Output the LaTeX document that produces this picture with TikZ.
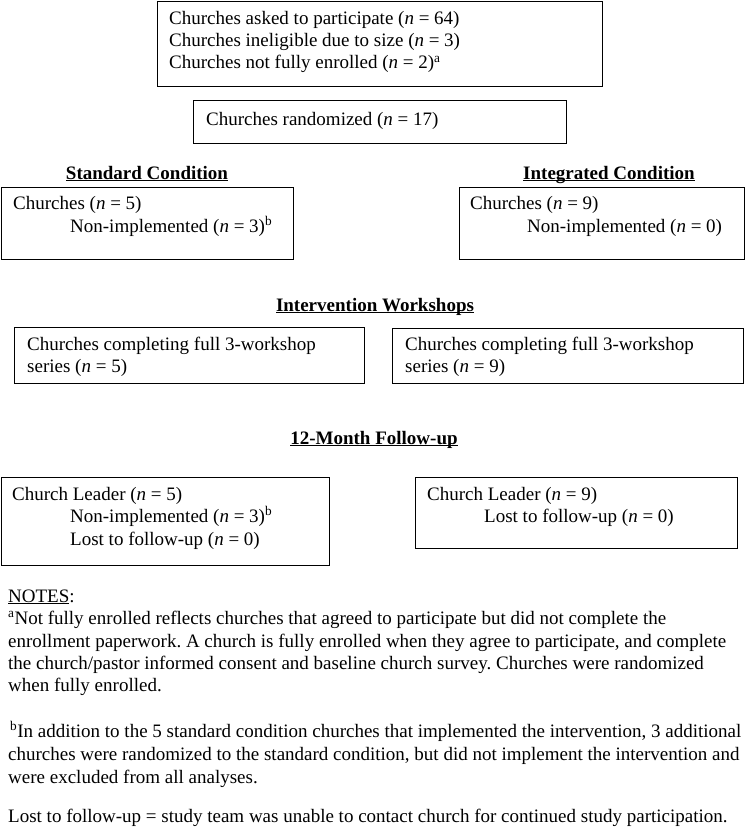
\documentclass[tikz,border=0pt]{standalone}
\usepackage{fontspec}
\setmainfont{Liberation Serif}
\newcommand\fs{\fontsize{19}{22}\selectfont\frenchspacing}
\newcommand\ul[1]{\underline{\smash{#1}}}
\newcommand\nn{\textit{n}}
\begin{document}
\begin{tikzpicture}[x=1pt,y=-1pt,
  box/.style={draw, line width=1.1pt, inner sep=0pt, anchor=north west},
  txt/.style={anchor=base west, inner sep=0pt, font=\fs},
  head/.style={anchor=base, inner sep=0pt, font=\fs\bfseries}]
\useasboundingbox (0,0) rectangle (749,828);
% boxes
\node[box, minimum width=445pt, minimum height=85pt] (b1) at (157,1) {};
\node[box, minimum width=373pt, minimum height=43pt] (b2) at (193,100) {};
\node[box, minimum width=292pt, minimum height=72pt] (bs) at (1,187) {};
\node[box, minimum width=285pt, minimum height=72pt] (bi) at (459,187) {};
\node[box, minimum width=350pt, minimum height=56pt] (bwl) at (14,327) {};
\node[box, minimum width=351pt, minimum height=55pt] (bwr) at (392,328) {};
\node[box, minimum width=328pt, minimum height=88pt] (bfl) at (1,477) {};
\node[box, minimum width=322pt, minimum height=71pt] (bfr) at (415,477) {};
% top box text
\node[txt] (t1) at (169,24) {Churches asked to participate (\nn{} = 64)};
\node[txt] (t2) at (169,46.5) {Churches ineligible due to size (\nn{} = 3)};
\node[txt] (t3) at (169,68.5) {Churches not fully enrolled (\nn{} = 2)\textsuperscript{a}};
\node[txt] (t4) at (206,125) {Churches randomized (\nn{} = 17)};
% headings
\node[head] (hs) at (147,179) {\ul{Standard Condition}};
\node[head] (hi) at (609,179) {\ul{Integrated Condition}};
\node[head] (hw) at (375,311) {\ul{Intervention Workshops}};
\node[head] (hf) at (374,444) {\ul{12-Month Follow-up}};
% condition boxes
\node[txt] (s1) at (13,209) {Churches (\nn{} = 5)};
\node[txt] (s2) at (70,232) {Non-implemented (\nn{} = 3)\textsuperscript{b}};
\node[txt] (i1) at (470,209) {Churches (\nn{} = 9)};
\node[txt] (i2) at (527,232) {Non-implemented (\nn{} = 0)};
% workshops
\node[txt] (w1) at (27,350) {Churches completing full 3-workshop};
\node[txt] (w2) at (27,372) {series (\nn{} = 5)};
\node[txt] (w3) at (405,350) {Churches completing full 3-workshop};
\node[txt] (w4) at (405,372) {series (\nn{} = 9)};
% follow-up
\node[txt] (f1) at (12,500) {Church Leader (\nn{} = 5)};
\node[txt] (f2) at (70,522) {Non-implemented (\nn{} = 3)\textsuperscript{b}};
\node[txt] (f3) at (70,545) {Lost to follow-up (\nn{} = 0)};
\node[txt] (f4) at (427,500) {Church Leader (\nn{} = 9)};
\node[txt] (f5) at (484,522) {Lost to follow-up (\nn{} = 0)};
% notes
\node[txt] (n0) at (8,602) {\ul{NOTES}:};
\node[txt] (n1) at (8,624) {\textsuperscript{a}Not fully enrolled reflects churches that agreed to participate but did not complete the};
\node[txt] (n2) at (8,647) {enrollment paperwork. A church is fully enrolled when they agree to participate, and complete};
\node[txt] (n3) at (8,669) {the church/pastor informed consent and baseline church survey. Churches were randomized};
\node[txt] (n4) at (8,691) {when fully enrolled.};
\node[txt] (n5) at (10,737) {\textsuperscript{b}In addition to the 5 standard condition churches that implemented the intervention, 3 additional};
\node[txt] (n6) at (8,760) {churches were randomized to the standard condition, but did not implement the intervention and};
\node[txt] (n7) at (8,783) {were excluded from all analyses.};
\node[txt] (n8) at (8,822) {Lost to follow-up = study team was unable to contact church for continued study participation.};
\end{tikzpicture}
\end{document}
